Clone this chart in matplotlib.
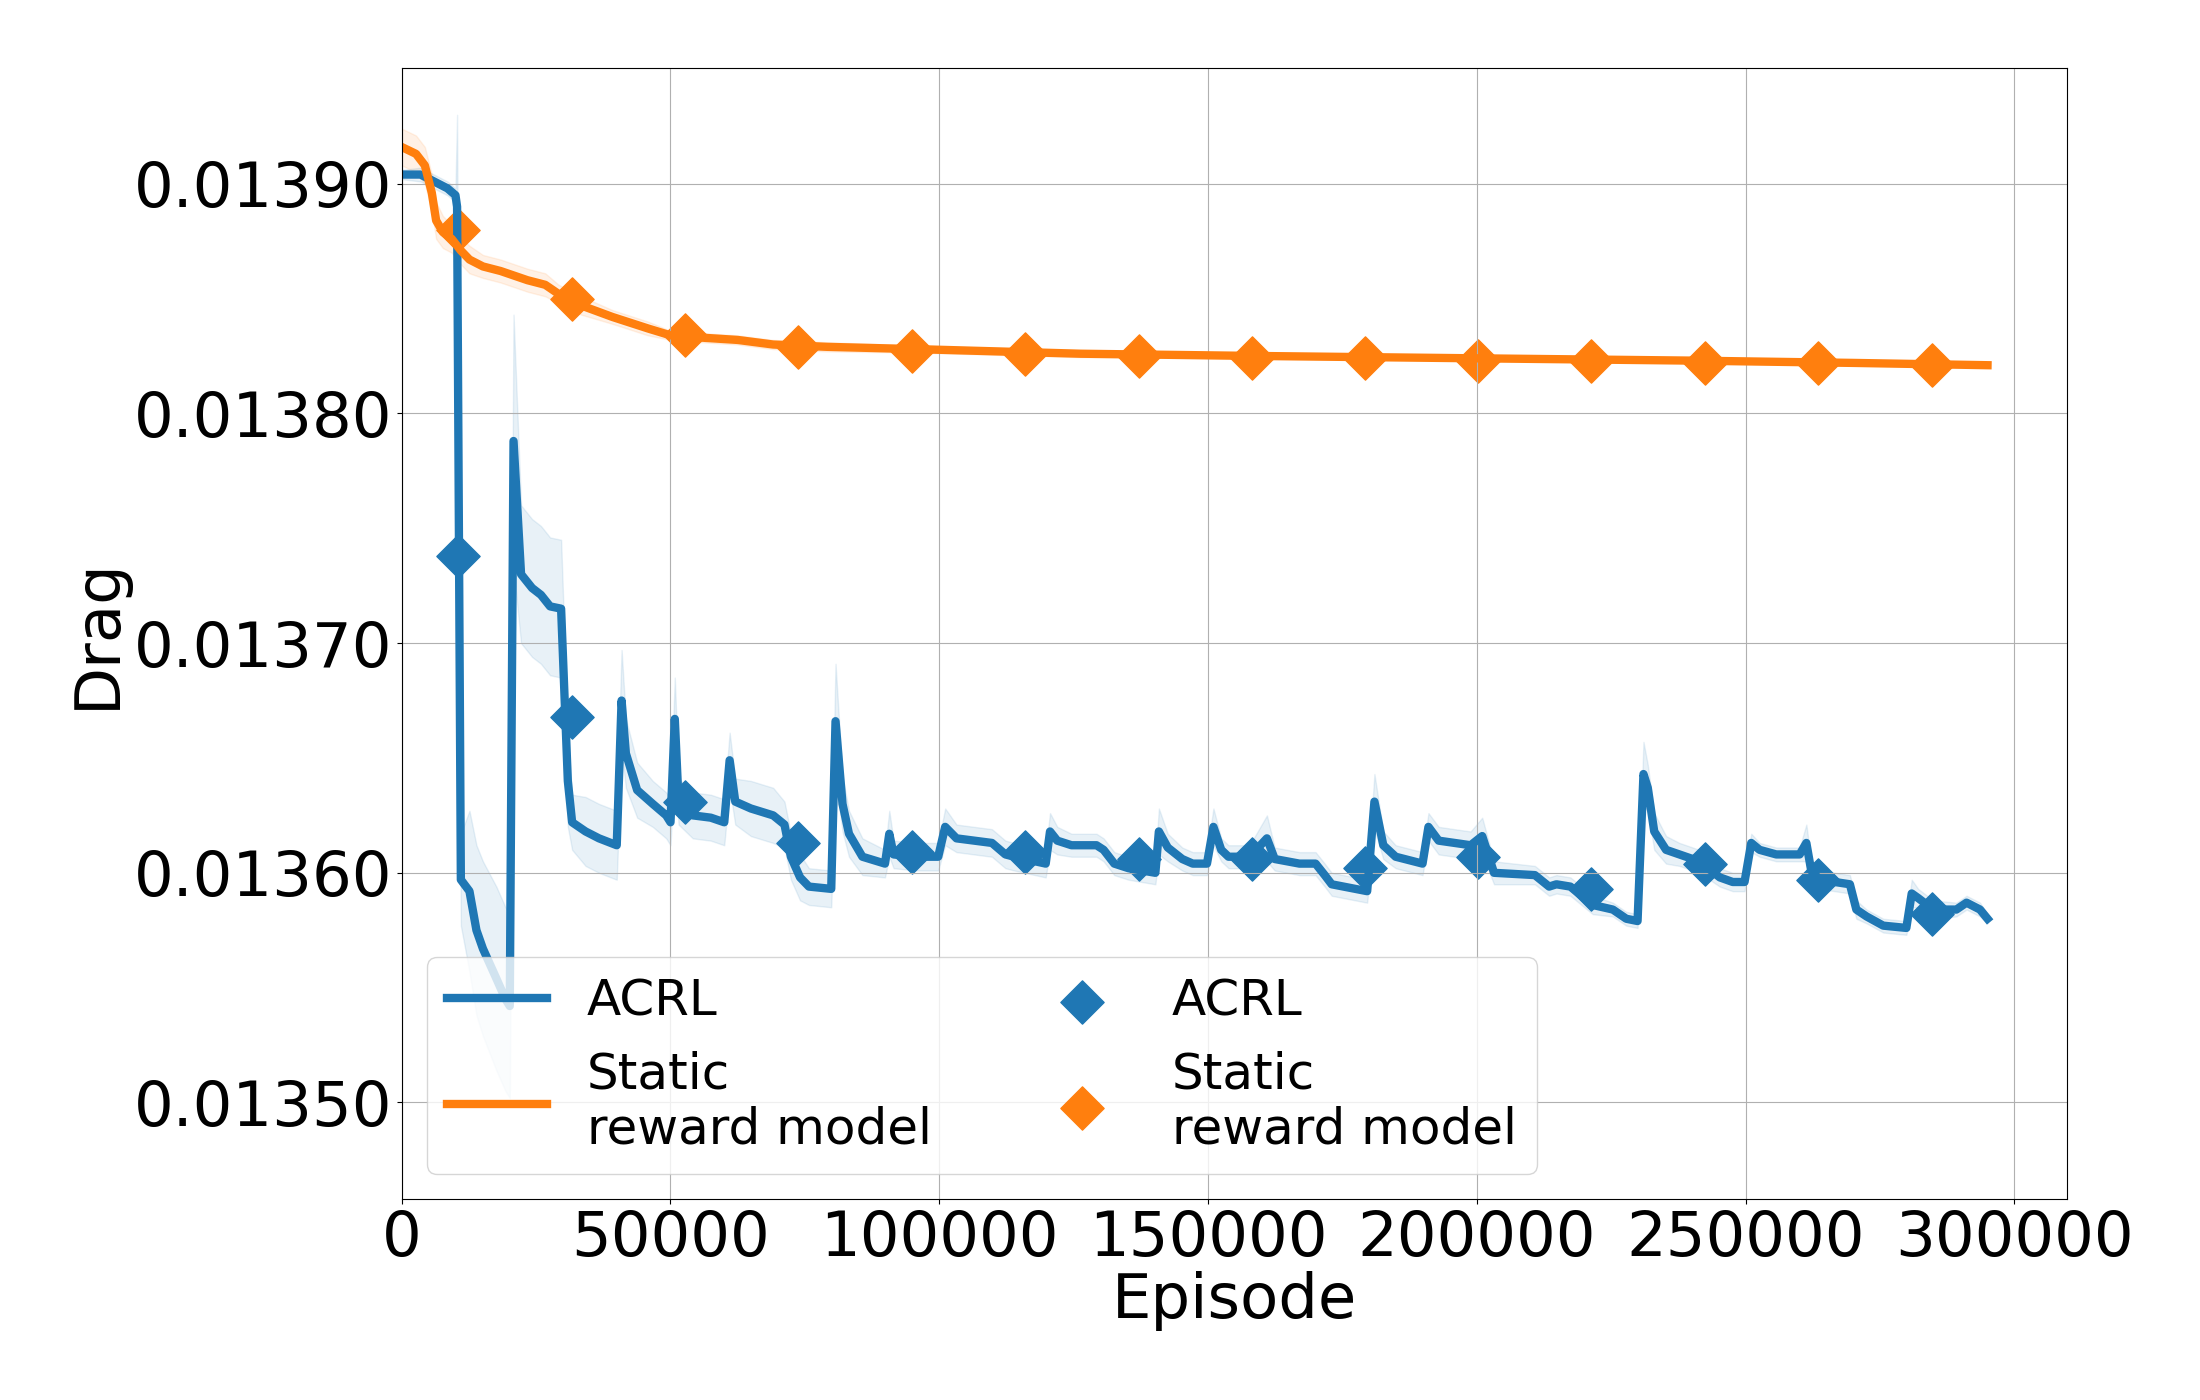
import matplotlib
matplotlib.use("Agg")
import matplotlib.pyplot as plt
import numpy as np
from matplotlib.ticker import FormatStrFormatter, FuncFormatter

# ---------------- data ----------------
acrl_ep = [0, 3500, 6000, 8500, 10000, 10300, 11000, 12600, 13900, 15100, 17600, 19300, 20100,
           20800, 22200, 24250, 25900, 27600, 29650, 30900, 31700, 34200, 36700, 40000,
           40900, 41700, 43800, 46700, 49200, 50000, 50800, 51500, 54150, 57500, 60000,
           61000, 62050, 64950, 69100, 71200, 72400, 74100, 75750, 79900, 80700, 82000,
           83200, 85700, 89900, 90700, 91500, 95700, 99800, 101100, 103200, 109800, 112300,
           113950, 119800, 120600, 121950, 124600, 129250, 130570, 132560, 135200, 140200,
           140850, 142500, 145200, 147150, 149800, 151000, 152450, 153800, 157750, 160950,
           162400, 167000, 170000, 171700, 173000, 179600, 180950, 182600, 184900, 189900,
           191000, 192900, 198850, 201000, 203200, 210800, 213450, 214800, 217400, 221560,
           225300, 227800, 229900, 231000, 231800, 233000, 235200, 237700, 241400, 245200,
           247600, 249800, 251050, 252600, 255700, 260050, 261300, 262200, 263800, 269400,
           270600, 272500, 275600, 279900, 280900, 282100, 284900, 289200, 291100, 293600,
           295000]
acrl_drag = [0.013904, 0.013904, 0.013901, 0.013898, 0.013895, 0.013890, 0.013597, 0.013592,
             0.013575, 0.013567, 0.013554, 0.013545, 0.013542,
             0.013788, 0.013730, 0.013724, 0.013721, 0.013716, 0.013715, 0.013640, 0.013622,
             0.013618, 0.013615, 0.013612,
             0.013675, 0.013652, 0.013636, 0.013630, 0.013625, 0.013622, 0.013667, 0.013631,
             0.013625, 0.013624, 0.013622,
             0.013649, 0.013631, 0.013628, 0.013625, 0.013621, 0.013607, 0.013598, 0.013594,
             0.013593, 0.013666, 0.013630,
             0.013617, 0.013607, 0.013604, 0.013617, 0.013608, 0.013607, 0.013607, 0.013620,
             0.013615, 0.013613, 0.013608,
             0.013607, 0.013604, 0.013618, 0.013614, 0.013612, 0.013612, 0.013610, 0.013604,
             0.013602, 0.013600,
             0.013618, 0.013611, 0.013606, 0.013604, 0.013604, 0.013620, 0.013610, 0.013607,
             0.013607, 0.013615,
             0.013606, 0.013604, 0.013604, 0.013599, 0.013595, 0.013592, 0.013631, 0.013612,
             0.013607, 0.013604,
             0.013620, 0.013614, 0.013612, 0.013616, 0.013600, 0.013599, 0.013594, 0.013595,
             0.013594, 0.013586,
             0.013584, 0.013580, 0.013579, 0.013643, 0.013637, 0.013618, 0.013610, 0.013608,
             0.013605, 0.013598,
             0.013596, 0.013596, 0.013613, 0.013610, 0.013608, 0.013608, 0.013613, 0.013601,
             0.013597, 0.013595,
             0.013584, 0.013581, 0.013577, 0.013576, 0.013591, 0.013589, 0.013584, 0.013584,
             0.013587, 0.013584,
             0.013580]
acrl_spread = [0.000002, 0.000003, 0.000003, 0.000003, 0.000003, 0.000040, 0.000020, 0.000035,
               0.000037, 0.000038, 0.000040, 0.000040, 0.000040,
               0.000055, 0.000030, 0.000030, 0.000030, 0.000030, 0.000030, 0.000020, 0.000012,
               0.000015, 0.000015, 0.000015,
               0.000022, 0.000015, 0.000012, 0.000010, 0.000010, 0.000010, 0.000018, 0.000010,
               0.000010, 0.000010, 0.000010,
               0.000012, 0.000010, 0.000012, 0.000012, 0.000010, 0.000010, 0.000010, 0.000008,
               0.000008, 0.000025, 0.000012,
               0.000010, 0.000008, 0.000006, 0.000010, 0.000006, 0.000006, 0.000006, 0.000008,
               0.000006, 0.000006, 0.000006,
               0.000006, 0.000006, 0.000008, 0.000006, 0.000005, 0.000005, 0.000005, 0.000005,
               0.000005, 0.000005,
               0.000010, 0.000006, 0.000005, 0.000005, 0.000005, 0.000008, 0.000005, 0.000005,
               0.000005, 0.000010,
               0.000005, 0.000005, 0.000005, 0.000005, 0.000005, 0.000005, 0.000012, 0.000006,
               0.000005, 0.000005,
               0.000006, 0.000006, 0.000006, 0.000008, 0.000005, 0.000004, 0.000004, 0.000004,
               0.000004, 0.000004,
               0.000003, 0.000003, 0.000003, 0.000014, 0.000010, 0.000008, 0.000006, 0.000005,
               0.000005, 0.000004,
               0.000004, 0.000004, 0.000004, 0.000003, 0.000003, 0.000003, 0.000008, 0.000004,
               0.000004, 0.000004,
               0.000004, 0.000003, 0.000003, 0.000003, 0.000006, 0.000004, 0.000004, 0.000003,
               0.000003, 0.000003,
               0.000002]

static_ep = [0, 2660, 4300, 5600, 6400, 7650, 9300, 10960, 12600, 15100, 18400, 20900, 23400,
             26700, 29200, 33400, 39200, 45800, 50000, 55800, 62500, 69100, 79100, 95700,
             126250, 160000, 200000, 240000, 270000, 295000]
static_drag = [0.013916, 0.013913, 0.013908, 0.013896, 0.013884, 0.013879, 0.013876, 0.013871,
               0.013867, 0.013864, 0.013862, 0.013860, 0.013858, 0.013856, 0.013852, 0.013847,
               0.013842, 0.013837, 0.013834, 0.013833, 0.013832, 0.013830, 0.013829, 0.013828,
               0.013826, 0.013825, 0.013824, 0.013823, 0.013822, 0.013821]
static_spread = [0.000008, 0.000008, 0.000008, 0.000008, 0.000008, 0.000007, 0.000006, 0.000006,
                 0.000006, 0.000005, 0.000005, 0.000005, 0.000005, 0.000005, 0.000004, 0.000004,
                 0.000003, 0.000003, 0.000002, 0.000002, 0.000002, 0.000002, 0.000002, 0.0000015,
                 0.0000015, 0.000001, 0.000001, 0.000001, 0.000001, 0.000001]

marker_ep = [10500, 31600, 52700, 73800, 94900, 116000, 137100, 158200, 179200, 200300,
             221300, 242400, 263500, 284600]
acrl_marker_drag = [0.013738, 0.013668, 0.013631, 0.013613, 0.013609, 0.013609, 0.013606,
                    0.013606, 0.013602, 0.013607, 0.013593, 0.013604, 0.013597, 0.013582]
static_marker_drag = [0.013880, 0.013850, 0.013834, 0.013829, 0.013827, 0.013826, 0.013825,
                      0.013824, 0.013824, 0.013823, 0.013823, 0.013822, 0.013822, 0.013821]

labels = ["ACRL", "Static\nreward model"]

# ---------------- plot ----------------
BLUE = "#1f77b4"
ORANGE = "#ff7f0e"

fig = plt.figure(figsize=(22, 14), dpi=100)
ax = fig.add_axes([0.1826, 0.1436, 0.9397 - 0.1826, 0.9516 - 0.1436])

a_ep = np.array(acrl_ep); a_y = np.array(acrl_drag); a_s = np.array(acrl_spread)
s_ep = np.array(static_ep); s_y = np.array(static_drag); s_s = np.array(static_spread)

ax.plot(a_ep, a_y, color=BLUE, lw=6, label=labels[0])
ax.fill_between(a_ep, a_y - a_s, a_y + a_s, color=BLUE, alpha=0.1)
ax.plot(s_ep, s_y, color=ORANGE, lw=6, label=labels[1])
ax.fill_between(s_ep, s_y - s_s, s_y + s_s, color=ORANGE, alpha=0.1)

ax.scatter(marker_ep, acrl_marker_drag, marker="D", s=22 ** 2, color=BLUE, label=labels[0])
ax.scatter(marker_ep, static_marker_drag, marker="D", s=22 ** 2, color=ORANGE, label=labels[1])

ax.set_xlim(0, 309850)
ax.set_ylim(0.013458, 0.0139505)
ax.set_xticks([0, 50000, 100000, 150000, 200000, 250000, 300000])
ax.set_yticks([0.01350, 0.01360, 0.01370, 0.01380, 0.01390])
ax.yaxis.set_major_formatter(FormatStrFormatter("%.5f"))
ax.xaxis.set_major_formatter(FuncFormatter(lambda v, p: "%d" % int(round(v))))
ax.tick_params(labelsize=45)
ax.grid(True)

ax.set_xlabel("Episode", fontsize=45, labelpad=2)
ax.set_ylabel("Drag", fontsize=45)

ax.legend(loc="lower left", ncol=2, fontsize=36)

fig.savefig("out.png", dpi=100)
